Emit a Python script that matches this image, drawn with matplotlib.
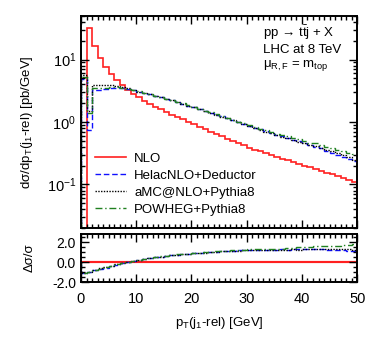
import numpy as np
import matplotlib
matplotlib.use('Agg')
import matplotlib.pyplot as plt
from matplotlib.ticker import MultipleLocator, LogLocator, NullFormatter

plt.rcParams['font.family'] = ['Liberation Sans', 'DejaVu Sans']
plt.rcParams['mathtext.fontset'] = 'custom'
plt.rcParams['mathtext.rm'] = 'Liberation Sans'
plt.rcParams['mathtext.it'] = 'Liberation Sans:italic'
plt.rcParams['font.size'] = 9.5

# bin edges in pT(j1-rel) [GeV]
edges = np.arange(0, 51, 1)

# dsigma/dpT [pb/GeV], one value per 1 GeV bin (first NLO bin is negative)
nlo = [-60, 32, 16.7, 10.6, 7.5, 5.9, 4.65, 3.85, 3.25, 2.85,
       2.5, 2.2, 1.97, 1.77, 1.6, 1.45, 1.32, 1.2, 1.1, 1.0,
       0.915, 0.84, 0.765, 0.695, 0.64, 0.59, 0.54, 0.495, 0.457, 0.422,
       0.39, 0.363, 0.339, 0.316, 0.295, 0.279, 0.26, 0.245, 0.229, 0.214,
       0.2, 0.188, 0.178, 0.166, 0.155, 0.146, 0.138, 0.129, 0.12, 0.111]

helac = [4.8, 0.75, 3.2, 3.3, 3.4, 3.45, 3.5, 3.45, 3.35, 3.22,
         3.08, 2.93, 2.78, 2.65, 2.5, 2.36, 2.24, 2.11, 1.97, 1.84,
         1.72, 1.62, 1.51, 1.41, 1.32, 1.23, 1.15, 1.07, 1.0, 0.935,
         0.87, 0.81, 0.76, 0.71, 0.665, 0.63, 0.59, 0.555, 0.52, 0.49,
         0.455, 0.43, 0.405, 0.38, 0.34, 0.32, 0.3, 0.28, 0.26, 0.235]

amcnlo = [5.6, 1.5, 3.9, 3.95, 3.95, 3.9, 3.8, 3.65, 3.45, 3.25,
          3.08, 2.92, 2.78, 2.63, 2.5, 2.35, 2.22, 2.1, 1.96, 1.83,
          1.71, 1.6, 1.5, 1.4, 1.31, 1.22, 1.14, 1.06, 0.99, 0.925,
          0.86, 0.805, 0.75, 0.705, 0.66, 0.62, 0.585, 0.55, 0.52, 0.485,
          0.46, 0.43, 0.41, 0.385, 0.36, 0.34, 0.32, 0.3, 0.28, 0.245]

powheg = [5.2, 1.4, 3.45, 3.5, 3.55, 3.6, 3.6, 3.5, 3.4, 3.25,
          3.1, 2.95, 2.8, 2.66, 2.52, 2.38, 2.25, 2.13, 1.99, 1.86,
          1.73, 1.63, 1.53, 1.43, 1.34, 1.25, 1.17, 1.09, 1.02, 0.955,
          0.89, 0.83, 0.78, 0.735, 0.69, 0.655, 0.615, 0.59, 0.555, 0.53,
          0.5, 0.47, 0.46, 0.43, 0.405, 0.385, 0.36, 0.35, 0.325, 0.31]

labels = ['NLO', 'HelacNLO+Deductor', 'aMC@NLO+Pythia8', 'POWHEG+Pythia8']
series = [nlo, helac, amcnlo, powheg]
colors = ['#ff2020', '#1010ff', 'black', '#208020']
styles = ['-', (0, (4, 2)), (0, (1, 1)), (0, (5, 2, 1, 2))]
widths = [1.2, 1.0, 1.0, 1.0]

fig = plt.figure(figsize=(3.82, 3.39), dpi=100)
ax = fig.add_axes([0.212, 0.327, 0.723, 0.626])
axr = fig.add_axes([0.212, 0.168, 0.723, 0.141])

ref = np.array(nlo, dtype=float)
for vals, lab, c, ls, lw in zip(series, labels, colors, styles, widths):
    vals = np.array(vals, dtype=float)
    ax.stairs(vals, edges, color=c, linestyle=ls, linewidth=lw, label=lab)
    axr.stairs((vals - ref) / ref, edges, color=c, linestyle=ls,
               linewidth=lw * (1.3 if c == '#ff2020' else 1.0))

ax.set_yscale('log')
ax.set_ylim(0.02, 50)
ax.set_xlim(0, 50)
axr.set_xlim(0, 50)
axr.set_ylim(-2.0, 2.8)

for a in (ax, axr):
    a.xaxis.set_major_locator(MultipleLocator(10))
    a.xaxis.set_minor_locator(MultipleLocator(1))
    a.tick_params(which='both', direction='in', top=True, right=True, width=1)
    a.tick_params(which='major', length=6)
    a.tick_params(which='minor', length=3)
    for sp in a.spines.values():
        sp.set_linewidth(1.4)

ax.yaxis.set_major_locator(LogLocator(base=10, numticks=10))
ax.yaxis.set_minor_locator(LogLocator(base=10, subs=np.arange(2, 10), numticks=20))
ax.yaxis.set_minor_formatter(NullFormatter())
ax.tick_params(labelbottom=False)
ax.tick_params(axis='y', which='major', labelsize=10.5)
axr.yaxis.set_major_locator(MultipleLocator(2))
axr.yaxis.set_minor_locator(MultipleLocator(0.5))
axr.yaxis.set_major_formatter(matplotlib.ticker.FormatStrFormatter('%.1f'))
axr.tick_params(axis='x', which='major', pad=7, labelsize=10.5)
axr.tick_params(axis='y', which='major', labelsize=10)

ax.set_ylabel('dσ/dp$_{\\mathrm{T}}$(j$_{1}$-rel) [pb/GeV]')
ax.yaxis.set_label_coords(-0.165, 0.5)
axr.set_ylabel('Δσ/σ')
axr.yaxis.set_label_coords(-0.165, 0.5)
axr.set_xlabel('p$_{\\mathrm{T}}$(j$_{1}$-rel) [GeV]', labelpad=7)

ax.legend(loc='upper left', bbox_to_anchor=(0.03, 0.38), frameon=False,
          handlelength=2.4, handletextpad=0.6, labelspacing=0.35,
          borderaxespad=0)

ax.text(0.66, 0.965, 'pp → t$\\bar{\\mathrm{t}}$j + X\nLHC at 8 TeV\n'
        '$\\mathrm{\\mu}_{\\mathrm{R,F}}$ = m$_{\\mathrm{top}}$',
        transform=ax.transAxes, va='top', ha='left', linespacing=1.25)

fig.savefig('out.png', dpi=100)
